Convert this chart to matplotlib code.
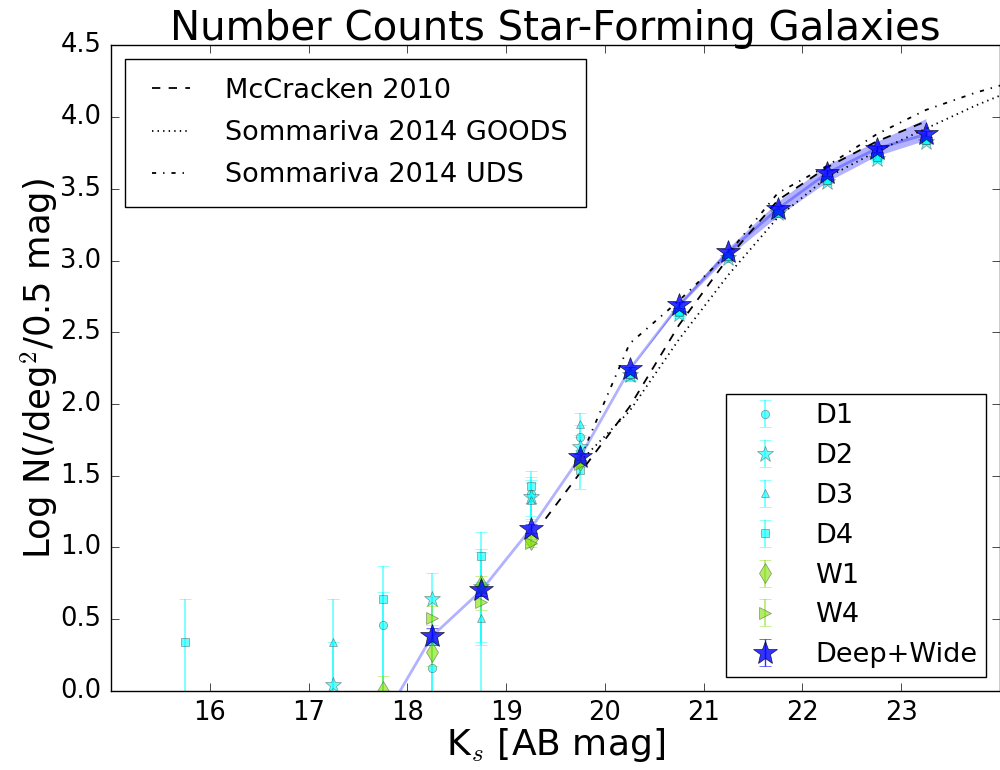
import matplotlib
matplotlib.use('Agg')
import matplotlib.pyplot as plt
import numpy as np

plt.style.use('classic')
plt.rcParams['font.family'] = ['DejaVu Sans']

nan = np.nan
# magnitude bins
mags = [15.75, 16.25, 16.75, 17.25, 17.75, 18.25, 18.75, 19.25, 19.75,
        20.25, 20.75, 21.25, 21.75, 22.25, 22.75, 23.25]

d1_y = [nan, nan, nan, nan, 0.46, 0.16, 0.74, 1.37, 1.77, 2.20, 2.64, 3.02, 3.33, 3.56, 3.73, 3.84]
d1_eu = [nan, nan, nan, nan, 0.23, 0.30, 0.25, 0.12, 0.08, 0.04, 0.03, 0.02, 0.02, 0.02, 0.02, 0.02]
d1_el = [nan, nan, nan, nan, 0.60, 0.60, 0.40, 0.15, 0.09, 0.04, 0.03, 0.02, 0.02, 0.02, 0.02, 0.02]
d2_y = [nan, nan, nan, 0.04, nan, 0.64, 0.72, 1.35, 1.70, 2.20, 2.63, 3.02, 3.33, 3.55, 3.71, 3.83]
d2_eu = [nan, nan, nan, 0.30, nan, 0.18, 0.25, 0.12, 0.08, 0.04, 0.03, 0.02, 0.02, 0.02, 0.02, 0.02]
d2_el = [nan, nan, nan, 0.60, nan, 0.30, 0.40, 0.15, 0.09, 0.04, 0.03, 0.02, 0.02, 0.02, 0.02, 0.02]
d3_y = [nan, nan, nan, 0.34, nan, 0.35, 0.51, 1.33, 1.86, 2.21, 2.65, 3.03, 3.34, 3.56, 3.72, 3.84]
d3_eu = [nan, nan, nan, 0.30, nan, 0.30, 0.25, 0.12, 0.08, 0.04, 0.03, 0.02, 0.02, 0.02, 0.02, 0.02]
d3_el = [nan, nan, nan, 0.60, nan, 0.60, 0.70, 0.15, 0.09, 0.04, 0.03, 0.02, 0.02, 0.02, 0.02, 0.02]
d4_y = [0.34, nan, nan, nan, 0.64, nan, 0.94, 1.43, 1.54, 2.21, 2.64, 3.03, 3.33, 3.56, 3.72, 3.84]
d4_eu = [0.30, nan, nan, nan, 0.23, nan, 0.17, 0.10, 0.12, 0.04, 0.03, 0.02, 0.02, 0.02, 0.02, 0.02]
d4_el = [0.60, nan, nan, nan, 0.70, nan, 0.25, 0.12, 0.13, 0.04, 0.03, 0.02, 0.02, 0.02, 0.02, 0.02]
w1_y = [nan, nan, nan, nan, 0.00, 0.27, 0.74, 1.05, 1.60, nan, nan, nan, nan, nan, nan, nan]
w1_e = [nan, nan, nan, nan, 0.10, 0.10, 0.06, 0.03, 0.02, nan, nan, nan, nan, nan, nan, nan]
w4_y = [nan, nan, nan, nan, nan, 0.51, 0.62, 1.03, 1.58, nan, nan, nan, nan, nan, nan, nan]
w4_e = [nan, nan, nan, nan, nan, 0.08, 0.06, 0.03, 0.02, nan, nan, nan, nan, nan, nan, nan]
dw_y = [nan, nan, nan, nan, -0.21, 0.38, 0.70, 1.13, 1.63, 2.24, 2.69, 3.06, 3.36, 3.61, 3.78, 3.88]
dw_e = [nan, nan, nan, nan, 0.21, 0.06, 0.04, 0.03, 0.02, 0.02, 0.02, 0.02, 0.02, 0.02, 0.02, 0.02]
band_lo = [nan, nan, nan, nan, -0.21, 0.38, 0.70, 1.13, 1.63, 2.24, 2.68, 3.03, 3.31, 3.55, 3.73, 3.84]
band_hi = [nan, nan, nan, nan, -0.21, 0.38, 0.70, 1.13, 1.63, 2.24, 2.70, 3.09, 3.41, 3.67, 3.83, 3.99]

# literature counts
mc_x = [19.4, 19.75, 20.25, 20.75, 21.25, 21.75, 22.25, 22.75, 23.25]
mc_y = [1.20, 1.52, 1.98, 2.55, 3.02, 3.42, 3.65, 3.83, 3.97]
goods_x = [19.75, 20.25, 20.75, 21.25, 21.75, 22.25, 22.75, 23.25, 23.75, 24.25]
goods_y = [1.60, 1.95, 2.45, 2.90, 3.30, 3.58, 3.76, 3.92, 4.08, 4.22]
uds_x = [19.75, 20.25, 20.75, 21.25, 21.75, 22.25, 22.75, 23.25, 23.75, 24.25]
uds_y = [1.62, 2.42, 2.72, 3.05, 3.47, 3.66, 3.88, 4.05, 4.17, 4.27]

fig = plt.figure(figsize=(10, 7.7), dpi=100)
ax = fig.add_axes([0.111, 0.103, 0.889, 0.838])

mags_a = np.array(mags)
lo = np.array(band_lo); hi = np.array(band_hi)
ok = ~np.isnan(lo)
ax.fill_between(mags_a[ok], lo[ok], hi[ok], color='blue', alpha=0.3, lw=0)
dw_a = np.array(dw_y)
ax.plot(mags_a[ok], dw_a[ok], color='blue', alpha=0.3, lw=2)

l1, = ax.plot(mc_x, mc_y, 'k--', lw=1.3, label='McCracken 2010')
l2, = ax.plot(goods_x, goods_y, 'k:', lw=1.3, label='Sommariva 2014 GOODS')
l3, = ax.plot(uds_x, uds_y, 'k-.', lw=1.3, label='Sommariva 2014 UDS')

cyan = 'cyan'
green = '#7FE000'
series = [
    (d1_y, [d1_el, d1_eu], 'o', 6, cyan, 'D1'),
    (d2_y, [d2_el, d2_eu], '*', 12, cyan, 'D2'),
    (d3_y, [d3_el, d3_eu], '^', 6, cyan, 'D3'),
    (d4_y, [d4_el, d4_eu], 's', 6, cyan, 'D4'),
    (w1_y, w1_e, 'd', 10, green, 'W1'),
    (w4_y, w4_e, '>', 8, green, 'W4'),
]
handles = []
for y, e, m, ms, c, lab in series:
    h = ax.errorbar(mags, y, yerr=e, fmt=m, ms=ms, color=c, mfc=c, mec='0.3',
                    ecolor=c, alpha=0.6, capsize=4, elinewidth=1.2, label=lab)
    handles.append(h)
h = ax.errorbar(mags, dw_y, yerr=dw_e, fmt='*', ms=18, color='blue', mfc='blue',
                mec='k', ecolor='blue', alpha=0.8, capsize=4, label='Deep+Wide')
handles.append(h)

ax.set_xlim(15, 24)
ax.set_ylim(0, 4.5)
ax.set_xticks([16, 17, 18, 19, 20, 21, 22, 23])
ax.set_yticks(np.arange(0, 4.51, 0.5))
ax.set_yticklabels(['%.1f' % v for v in np.arange(0, 4.51, 0.5)])
ax.tick_params(labelsize=18.5, length=6, direction='in', pad=7)
ax.set_xlabel('K$_s$ [AB mag]', fontsize=26, labelpad=0)
ax.set_ylabel('Log N(/deg$^2$/0.5 mag)', fontsize=25.5, labelpad=0)
ax.set_title('Number Counts Star-Forming Galaxies', fontsize=29, pad=4)

leg1 = ax.legend(handles=[l1, l2, l3], loc='upper left', fontsize=19.5, numpoints=2,
                 borderpad=0.7, handlelength=2.0, handletextpad=1.0, labelspacing=0.6,
                 fancybox=False)
ax.add_artist(leg1)
leg2 = ax.legend(handles=handles, loc='lower right', fontsize=19.5, numpoints=1,
                 borderpad=0.33, handlelength=2.2, handletextpad=0.76, labelspacing=0.51,
                 fancybox=False)

fig.savefig('out.png', dpi=100)
